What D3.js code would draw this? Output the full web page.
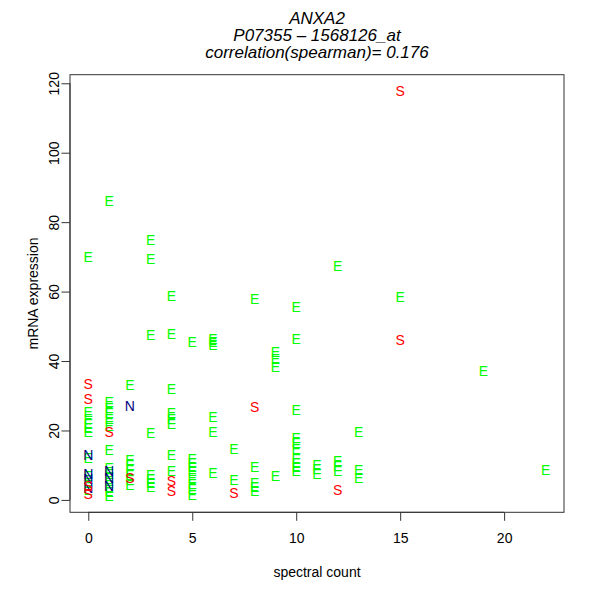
<!DOCTYPE html>
<html>
<head>
<meta charset="utf-8">
<script src="https://cdnjs.cloudflare.com/ajax/libs/d3/7.8.5/d3.min.js"></script>
<style>
  body { margin: 0; background: #fff; }
  svg text { font-family: "Liberation Sans", Arial, Helvetica, sans-serif; }
</style>
</head>
<body>
<div id="chart"></div>
<script>
// spectral count / mRNA expression, one pair of arrays per sample type
var eX = [0, 0, 0, 0, 0, 0, 0, 0, 0, 0,
    1, 1, 1, 1, 1, 1, 1, 1, 1, 1, 1, 1, 1,
    2, 2, 2, 2, 2, 2, 2,
    3, 3, 3, 3, 3, 3, 3, 3,
    4, 4, 4, 4, 4, 4, 4, 4,
    5, 5, 5, 5, 5, 5, 5, 5, 5,
    6, 6, 6, 6, 6, 6,
    7, 7,
    8, 8, 8, 8, 8,
    9, 9, 9, 9,
    10, 10, 10, 10, 10, 10, 10, 10, 10, 10,
    11, 11, 11,
    12, 12, 12, 12,
    13, 13, 13,
    15, 19, 22];
var eY = [69.9, 25.4, 23.4, 22.0, 20.6, 19.7, 12.0, 6.8, 4.8, 2.8,
    86.1, 28.3, 26.6, 24.9, 23.2, 21.4, 14.5, 9.1, 7.4, 5.4, 3.4, 2.2, 1.1,
    33.2, 11.4, 10.0, 8.5, 7.1, 5.7, 4.2,
    74.8, 69.3, 47.5, 19.4, 7.1, 5.9, 4.8, 3.6,
    58.7, 47.8, 32.0, 24.9, 23.4, 22.0, 12.8, 8.2,
    45.4, 11.7, 10.5, 9.4, 8.2, 6.2, 4.5, 3.1, 1.3,
    46.4, 45.4, 44.7, 24.0, 19.7, 7.7,
    14.8, 5.7,
    57.8, 9.4, 4.8, 3.6, 2.5,
    42.7, 40.7, 38.4, 6.8,
    55.6, 46.4, 25.8, 17.7, 16.3, 14.8, 11.7, 10.5, 9.4, 8.2,
    10.0, 8.8, 7.4,
    67.3, 11.1, 9.7, 8.2,
    19.7, 8.5, 6.2,
    58.4, 37.2, 8.5];
var nX = [0, 0, 0, 0, 1, 1, 1, 2];
var nY = [12.8, 7.4, 5.9, 3.4, 8.2, 6.2, 3.9, 27.2];
var sX = [0, 0, 0, 0, 1, 2, 4, 4, 7, 8, 12, 15, 15];
var sY = [33.3, 29.0, 3.9, 1.6, 19.7, 6.2, 5.4, 2.5, 1.9, 26.9, 2.8, 117.8, 46.1];

var xTicks = [0, 5, 10, 15, 20];
var yTicks = [0, 20, 40, 60, 80, 100, 120];
var titleLines = ["ANXA2", "P07355 \u2013 1568126_at", "correlation(spearman)= 0.176"];

var margin = {top: 74.7, right: 36, bottom: 87.7, left: 70};
var width = 600 - margin.left - margin.right;
var height = 600 - margin.top - margin.bottom;

var groups = [
    {label: "E", color: "#00ff00", xs: eX, ys: eY},
    {label: "N", color: "#000080", xs: nX, ys: nY},
    {label: "S", color: "#ff0000", xs: sX, ys: sY}
];

var allX = eX.concat(nX, sX);
var allY = eY.concat(nY, sY);

// R style 4% padding on each side
function padded(ext) {
    var p = (ext[1] - ext[0]) * 0.04;
    return [ext[0] - p, ext[1] + p];
}

var x = d3.scaleLinear().domain(padded(d3.extent(allX))).range([0, width]);
var y = d3.scaleLinear().domain(padded(d3.extent(allY))).range([height, 0]);

var svg = d3.select("#chart")
    .append("svg")
    .attr("width", 600)
    .attr("height", 600);

var vis = svg.append("g")
    .attr("transform", "translate(" + margin.left + "," + margin.top + ")");

// Title (three italic lines)
svg.selectAll("text.title")
    .data(titleLines)
    .enter().append("text")
    .attr("class", "title")
    .attr("x", margin.left + width / 2)
    .attr("y", function (d, i) { return 24 + i * 17.2; })
    .style("text-anchor", "middle")
    .style("font-style", "italic")
    .style("font-size", "17px")
    .text(function (d) { return d; });

// Axes------------------------------
var xaxis = d3.axisBottom(x).tickValues(xTicks).tickSize(8.5).tickPadding(12.2);
var yaxis = d3.axisLeft(y).tickValues(yTicks).tickSize(8.5);

var gx = vis.append("g")
    .attr("class", "xaxis")
    .attr("transform", "translate(0," + height + ")")
    .call(xaxis);

var gy = vis.append("g")
    .attr("class", "yaxis")
    .call(yaxis);

[gx, gy].forEach(function (g) {
    g.select(".domain").remove();
    g.selectAll(".tick line").attr("stroke", "#333");
    g.selectAll(".tick text")
        .attr("fill", "#000")
        .style("font-size", "14px")
        .style("font-family", "'Liberation Sans', Arial, sans-serif");
});

// y labels rotated like R (las = 0)
gy.selectAll(".tick text")
    .attr("x", null)
    .attr("dy", null)
    .attr("transform", "translate(-11,0) rotate(-90)")
    .style("text-anchor", "middle");

// axis line spans first to last tick
gx.append("line")
    .attr("x1", x(xTicks[0])).attr("x2", x(xTicks[xTicks.length - 1]))
    .attr("stroke", "#333");
gy.append("line")
    .attr("y1", y(yTicks[0])).attr("y2", y(yTicks[yTicks.length - 1]))
    .attr("stroke", "#333");

vis.append("rect")
    .attr("width", width)
    .attr("height", height)
    .attr("fill", "none")
    .attr("stroke", "#333")
    .attr("stroke-width", 1);

vis.append("text")
    .attr("x", width / 2)
    .attr("y", height + 64.6)
    .style("text-anchor", "middle")
    .style("font-size", "14px")
    .text("spectral count");

vis.append("text")
    .attr("transform", "translate(" + (-32) + "," + (height / 2) + ") rotate(-90)")
    .style("text-anchor", "middle")
    .style("font-size", "14px")
    .text("mRNA expression");

// Points drawn as letters
groups.forEach(function (grp) {
    vis.append("g")
        .selectAll("text")
        .data(grp.xs.map(function (v, i) { return [v, grp.ys[i]]; }))
        .enter().append("text")
        .attr("x", function (d) { return x(d[0]); })
        .attr("y", function (d) { return y(d[1]); })
        .attr("dy", "0.36em")
        .style("text-anchor", "middle")
        .style("font-size", "14px")
        .attr("fill", grp.color)
        .text(grp.label);
});
</script>
</body>
</html>
